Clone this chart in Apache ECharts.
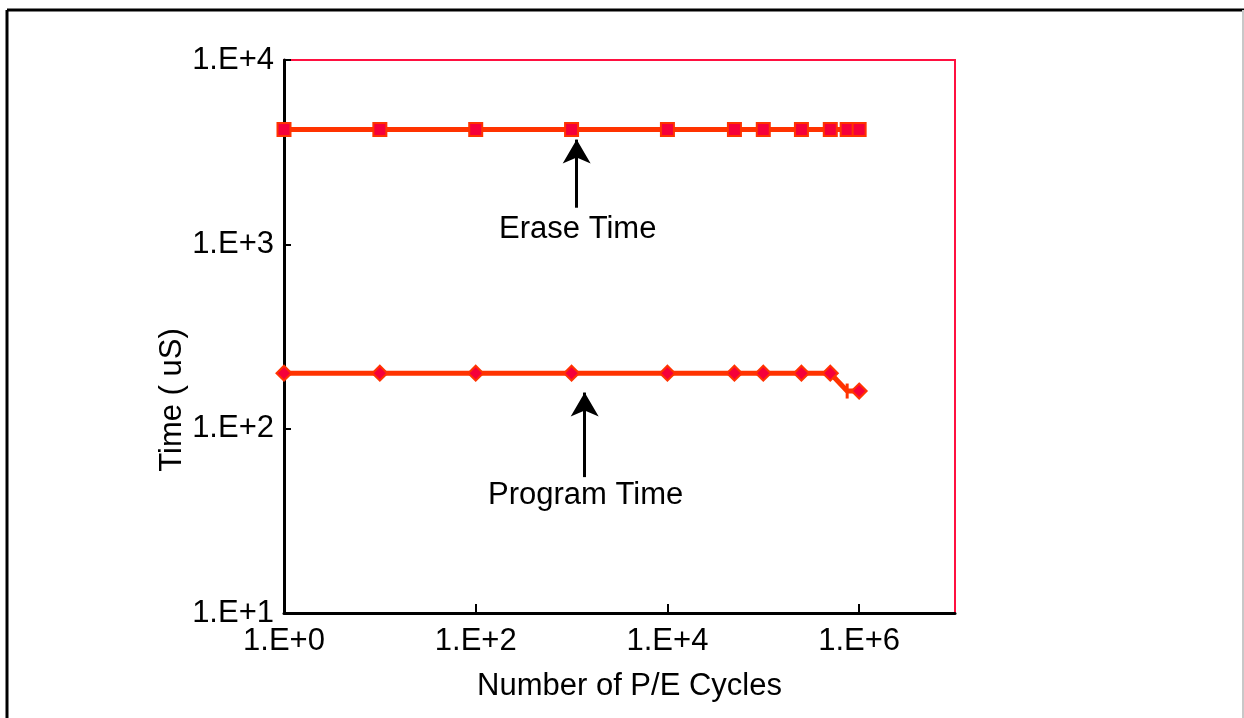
<!DOCTYPE html>
<html>
<head>
<meta charset="utf-8">
<script src="https://cdn.jsdelivr.net/npm/echarts@6/dist/echarts.min.js"></script>
<style>
  html, body { margin: 0; padding: 0; background: #fff; }
  #chart { width: 1244px; height: 718px; }
</style>
</head>
<body>
<div id="chart"></div>
<script>
const cycles = [1, 10, 100, 1000, 10000, 50000, 100000, 250000, 500000, 750000, 1000000];
const eraseTime = [4200, 4200, 4200, 4200, 4200, 4200, 4200, 4200, 4200, 4200, 4200];
const programTime = [200, 200, 200, 200, 200, 200, 200, 200, 200, 160, 160];

const xLabelValues = [1, 100, 10000, 1000000];
const xTickValues = [100, 10000, 1000000];

// annotation anchors, in data units
const eraseArrow = [[1130, 1580], [1130, 3700]];
const programArrow = [[1370, 54.6], [1370, 157]];
const eraseLabel = [1159, 1211];
const programLabel = [1403, 43.6];

const font = 'Liberation Sans, Arial, sans-serif';
const lineColor = '#ff3300';
const markFill = '#f5003a';

const expLabel = v => '1.E+' + Math.round(Math.log10(v));

const arrowLine = pts => ({
  silent: true,
  animation: false,
  symbol: ['none', 'arrow'],
  symbolSize: [21, 24],
  lineStyle: { color: '#000', width: 3, type: 'solid' },
  label: { show: false },
  data: [[{ coord: pts[0] }, { coord: pts[1] }]]
});

const textPoint = (pos, text) => ({
  silent: true,
  animation: false,
  symbol: 'circle',
  symbolSize: 1,
  itemStyle: { color: 'rgba(0,0,0,0)' },
  label: {
    show: true, position: 'inside', formatter: text,
    color: '#000', fontSize: 31, fontFamily: font
  },
  data: [{ coord: pos }]
});

const chart = echarts.init(document.getElementById('chart'));

const option = {
  animation: false,
  backgroundColor: '#fff',
  grid: {
    left: 284, top: 60, right: 289, bottom: 105,
    show: true, borderColor: '#ff1040', borderWidth: 2
  },
  xAxis: {
    type: 'log',
    logBase: 10,
    min: 1,
    max: 10000000,
    splitNumber: 4,
    name: 'Number of P/E Cycles',
    nameLocation: 'middle',
    nameGap: 58,
    nameTextStyle: { color: '#000', fontSize: 31, fontFamily: font, padding: [0, 0, 0, 20] },
    axisLine: { show: true, onZero: false, lineStyle: { color: '#000', width: 3 } },
    axisTick: { show: true, inside: true, length: 9, customValues: xTickValues, lineStyle: { color: '#000', width: 2 } },
    axisLabel: {
      color: '#000', fontSize: 31, fontFamily: font, margin: 13,
      customValues: xLabelValues, formatter: expLabel
    },
    splitLine: { show: false },
    minorTick: { show: false }
  },
  yAxis: {
    type: 'log',
    logBase: 10,
    min: 10,
    max: 10000,
    splitNumber: 3,
    axisLine: { show: true, onZero: false, lineStyle: { color: '#000', width: 3 } },
    axisTick: { show: true, inside: true, length: 7, lineStyle: { color: '#000', width: 2 } },
    axisLabel: { color: '#000', fontSize: 31, fontFamily: font, margin: 10, formatter: expLabel },
    splitLine: { show: false },
    minorTick: { show: false }
  },
  graphic: [
    { type: 'line', shape: { x1: 7, y1: 10, x2: 1244, y2: 10 }, style: { stroke: '#000', lineWidth: 3 } },
    { type: 'line', shape: { x1: 7, y1: 10, x2: 7, y2: 718 }, style: { stroke: '#000', lineWidth: 3 } },
    { type: 'line', shape: { x1: 1243, y1: 10, x2: 1243, y2: 718 }, style: { stroke: '#c8c8c8', lineWidth: 2 } },
    {
      type: 'text', x: 172, y: 400, rotation: Math.PI / 2,
      style: {
        text: 'Time ( uS)', fill: '#000', fontSize: 31, fontFamily: font,
        align: 'center', verticalAlign: 'middle'
      }
    }
  ],
  series: [
    {
      name: 'Erase Time',
      type: 'line',
      data: cycles.map((c, i) => [c, eraseTime[i]]),
      symbol: 'rect',
      symbolSize: 13,
      itemStyle: { color: markFill, borderColor: lineColor, borderWidth: 2 },
      lineStyle: { color: lineColor, width: 5 },
      markLine: arrowLine(eraseArrow),
      markPoint: textPoint(eraseLabel, 'Erase Time'),
      z: 3
    },
    {
      name: 'Program Time',
      type: 'line',
      data: cycles.map((c, i) => (
        c === 750000
          ? { value: [c, programTime[i]], symbol: 'rect', symbolSize: [3, 15], itemStyle: { color: lineColor, borderWidth: 0 } }
          : [c, programTime[i]]
      )),
      symbol: 'diamond',
      symbolSize: 15,
      itemStyle: { color: markFill, borderColor: lineColor, borderWidth: 2 },
      lineStyle: { color: lineColor, width: 5 },
      markLine: arrowLine(programArrow),
      markPoint: textPoint(programLabel, 'Program Time'),
      z: 3
    }
  ]
};

chart.setOption(option);
</script>
</body>
</html>
